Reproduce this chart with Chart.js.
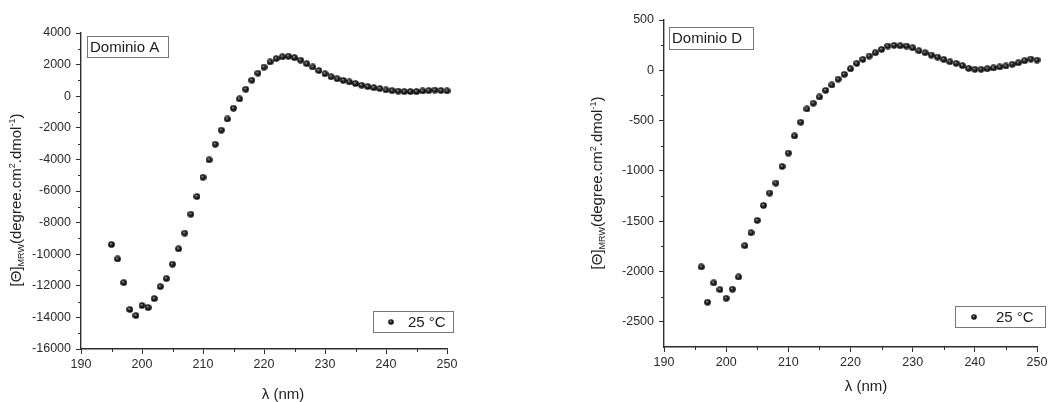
<!DOCTYPE html>
<html>
<head>
<meta charset="utf-8">
<title>Dicroísmo circular – Dominio A y Dominio D</title>
<script src="https://cdn.jsdelivr.net/npm/chart.js@4.4.1/dist/chart.umd.min.js"></script>
<style>
  html, body { margin: 0; padding: 0; background: #fff; }
  #wrap { display: flex; width: 1060px; height: 402px; overflow: hidden; }
  canvas { display: block; }
</style>
</head>
<body>
<div id="wrap">
  <canvas id="chartA" width="530" height="402"></canvas>
  <canvas id="chartD" width="530" height="402"></canvas>
</div>
<script>
// Wavelengths (nm) and mean residue ellipticity, Dominio A
const lambdaA = [195,196,197,198,199,200,201,202,203,204,205,206,207,208,209,210,
  211,212,213,214,215,216,217,218,219,220,221,222,223,224,225,226,227,228,229,230,
  231,232,233,234,235,236,237,238,239,240,241,242,243,244,245,246,247,248,249,250];
const thetaA = [-9390,-10300,-11800,-13500,-13880,-13250,-13380,-12810,-12050,-11540,
  -10630,-9660,-8670,-7470,-6350,-5130,-4030,-3040,-2150,-1440,-760,-170,440,1010,
  1460,1840,2170,2380,2490,2530,2440,2280,2060,1850,1620,1420,1230,1100,1000,900,
  800,700,610,540,480,400,350,320,290,290,290,330,350,390,360,340];

// Wavelengths (nm) and mean residue ellipticity, Dominio D
const lambdaD = [196,197,198,199,200,201,202,203,204,205,206,207,208,209,210,
  211,212,213,214,215,216,217,218,219,220,221,222,223,224,225,226,227,228,229,230,
  231,232,233,234,235,236,237,238,239,240,241,242,243,244,245,246,247,248,249,250];
const thetaD = [-1954,-2305,-2113,-2180,-2266,-2176,-2054,-1743,-1614,-1492,-1343,
  -1220,-1121,-956,-823,-652,-516,-384,-327,-265,-200,-146,-88,-40,15,69,109,142,
  175,208,241,248,244,241,224,194,175,152,132,109,85,69,46,20,10,10,16,23,33,43,
  60,75,95,112,102];

// Axis ticks
const xTicks = [190,200,210,220,230,240,250];
const xMinor = [195,205,215,225,235,245];
const yTicksA = [4000,2000,0,-2000,-4000,-6000,-8000,-10000,-12000,-14000,-16000];
const yMinorA = [3000,1000,-1000,-3000,-5000,-7000,-9000,-11000,-13000,-15000];
const yTicksD = [500,0,-500,-1000,-1500,-2000,-2500];
const yMinorD = [250,-250,-750,-1250,-1750,-2250];

const seriesLabel = '25 °C';
const FONT = "'Liberation Sans', Arial, Helvetica, sans-serif";
const AXIS = '#2e2e2e';

// Shaded black sphere used as the point marker
function sphere(d) {
  const c = document.createElement('canvas');
  c.width = c.height = d;
  const g = c.getContext('2d');
  const r = d / 2;
  const grad = g.createRadialGradient(r * 0.8, r * 0.72, 0.2, r, r, r);
  grad.addColorStop(0, '#a8a8a8');
  grad.addColorStop(0.35, '#2a2a2a');
  grad.addColorStop(1, '#000');
  g.fillStyle = grad;
  g.beginPath();
  g.arc(r, r, r - 0.2, 0, Math.PI * 2);
  g.fill();
  return c;
}

// Text with sub/superscripts, drawn rotated for the y-axis title
function richWidth(ctx, parts) {
  let w = 0;
  for (const p of parts) { ctx.font = p.size + 'px ' + FONT; w += ctx.measureText(p.t).width; }
  return w;
}
function drawRich(ctx, parts, cx, cy, rotate) {
  ctx.save();
  ctx.translate(cx, cy);
  if (rotate) ctx.rotate(-Math.PI / 2);
  ctx.fillStyle = '#222';
  ctx.textBaseline = 'alphabetic';
  ctx.textAlign = 'left';
  let x = -richWidth(ctx, parts) / 2;
  for (const p of parts) {
    ctx.font = p.size + 'px ' + FONT;
    ctx.fillText(p.t, x, 5 + (p.dy || 0));
    x += ctx.measureText(p.t).width;
  }
  ctx.restore();
}
const yTitle = [
  { t: '[Θ]', size: 15 },
  { t: 'MRW', size: 9, dy: 3 },
  { t: '(degree.cm', size: 15 },
  { t: '2', size: 9, dy: -6 },
  { t: '.dmol', size: 15 },
  { t: '-1', size: 9, dy: -6 },
  { t: ')', size: 15 }
];
const xTitle = [{ t: 'λ (nm)', size: 15 }];

// Minor ticks, legend boxes and axis titles
const decor = {
  id: 'decor',
  afterDraw(chart, args, o) {
    const ctx = chart.ctx;
    const a = chart.chartArea;
    const xs = chart.scales.x, ys = chart.scales.y;
    ctx.save();
    ctx.strokeStyle = AXIS;
    ctx.lineWidth = 1;
    ctx.beginPath();
    for (const v of xMinor) {
      const px = Math.round(xs.getPixelForValue(v)) + 0.5;
      ctx.moveTo(px, a.bottom); ctx.lineTo(px, a.bottom + 3);
    }
    for (const v of o.yMinor) {
      const py = Math.round(ys.getPixelForValue(v)) + 0.5;
      ctx.moveTo(a.left, py); ctx.lineTo(a.left - 3, py);
    }
    ctx.stroke();

    // Panel name box
    ctx.strokeStyle = '#777';
    ctx.fillStyle = '#fff';
    const nb = o.nameBox;
    const nx = a.left + nb.dx, ny = a.top + nb.dy;
    ctx.fillRect(nx, ny, nb.w, nb.h);
    ctx.strokeRect(nx + 0.5, ny + 0.5, nb.w, nb.h);
    ctx.fillStyle = '#1a1a1a';
    ctx.font = '15px ' + FONT;
    ctx.textBaseline = 'middle';
    ctx.textAlign = 'left';
    ctx.fillText(o.name, nx + 3, ny + nb.h / 2 + 1);

    // Series legend box
    const lb = o.legendBox;
    const lx = a.right + lb.dx, ly = a.bottom + lb.dy;
    ctx.fillStyle = '#fff';
    ctx.fillRect(lx, ly, lb.w, lb.h);
    ctx.strokeRect(lx + 0.5, ly + 0.5, lb.w, lb.h);
    const dot = sphere(6);
    ctx.drawImage(dot, lx + lb.dot - 3, ly + lb.h / 2 - 2.5);
    ctx.fillStyle = '#1a1a1a';
    ctx.fillText(seriesLabel, lx + lb.text, ly + lb.h / 2 + 1);

    // Axis titles
    drawRich(ctx, yTitle, o.yTitle.x, o.yTitle.y, true);
    drawRich(ctx, xTitle, o.xTitle.x, o.xTitle.y, false);
    ctx.restore();
  }
};

function makeChart(id, lambda, theta, cfg) {
  const marker = sphere(7);
  const tickFont = { family: FONT, size: 12.5 };
  return new Chart(document.getElementById(id), {
    type: 'scatter',
    data: {
      datasets: [{
        label: seriesLabel,
        data: lambda.map((l, i) => ({ x: l, y: theta[i] })),
        pointStyle: marker,
        pointRadius: 3.5,
        showLine: false,
        clip: false
      }]
    },
    options: {
      responsive: false,
      animation: false,
      layout: { padding: cfg.padding },
      plugins: {
        legend: { display: false },
        tooltip: { enabled: false },
        decor: cfg.decor
      },
      scales: {
        x: {
          type: 'linear',
          min: 190, max: 250,
          afterBuildTicks: s => { s.ticks = xTicks.map(v => ({ value: v })); },
          afterFit: s => { s.height = cfg.xHeight; },
          grid: { drawOnChartArea: false, drawTicks: true, tickLength: 5, tickColor: AXIS, tickWidth: 1 },
          border: { color: AXIS, width: 1.4 },
          ticks: { color: '#2a2a2a', font: tickFont, padding: 3, maxRotation: 0, callback: v => String(v) }
        },
        y: {
          type: 'linear',
          min: cfg.yMin, max: cfg.yMax,
          afterBuildTicks: s => { s.ticks = cfg.yTicks.map(v => ({ value: v })); },
          afterFit: s => { s.width = cfg.yWidth; },
          grid: { drawOnChartArea: false, drawTicks: true, tickLength: 5, tickColor: AXIS, tickWidth: 1 },
          border: { color: AXIS, width: 1.4 },
          ticks: { color: '#2a2a2a', font: tickFont, padding: 5, callback: v => String(v) }
        }
      }
    },
    plugins: [decor]
  });
}

makeChart('chartA', lambdaA, thetaA, {
  padding: { top: 33, right: 83, left: 0, bottom: 0 },
  xHeight: 53, yWidth: 81,
  yMin: -16000, yMax: 4000, yTicks: yTicksA,
  decor: {
    name: 'Dominio A',
    yMinor: yMinorA,
    nameBox: { dx: 6, dy: 3, w: 81, h: 21 },
    legendBox: { dx: -74, dy: -38, w: 80, h: 21, dot: 18, text: 35 },
    yTitle: { x: 16, y: 200 },
    xTitle: { x: 283, y: 394 }
  }
});

makeChart('chartD', lambdaD, thetaD, {
  padding: { top: 20, right: 23, left: 0, bottom: 0 },
  xHeight: 55, yWidth: 134,
  yMin: -2750, yMax: 500, yTicks: yTicksD,
  decor: {
    name: 'Dominio D',
    yMinor: yMinorD,
    nameBox: { dx: 5, dy: 7, w: 84, h: 22 },
    legendBox: { dx: -82, dy: -41, w: 90, h: 21, dot: 19, text: 41 },
    yTitle: { x: 67, y: 183 },
    xTitle: { x: 336, y: 386 }
  }
});
</script>
</body>
</html>
